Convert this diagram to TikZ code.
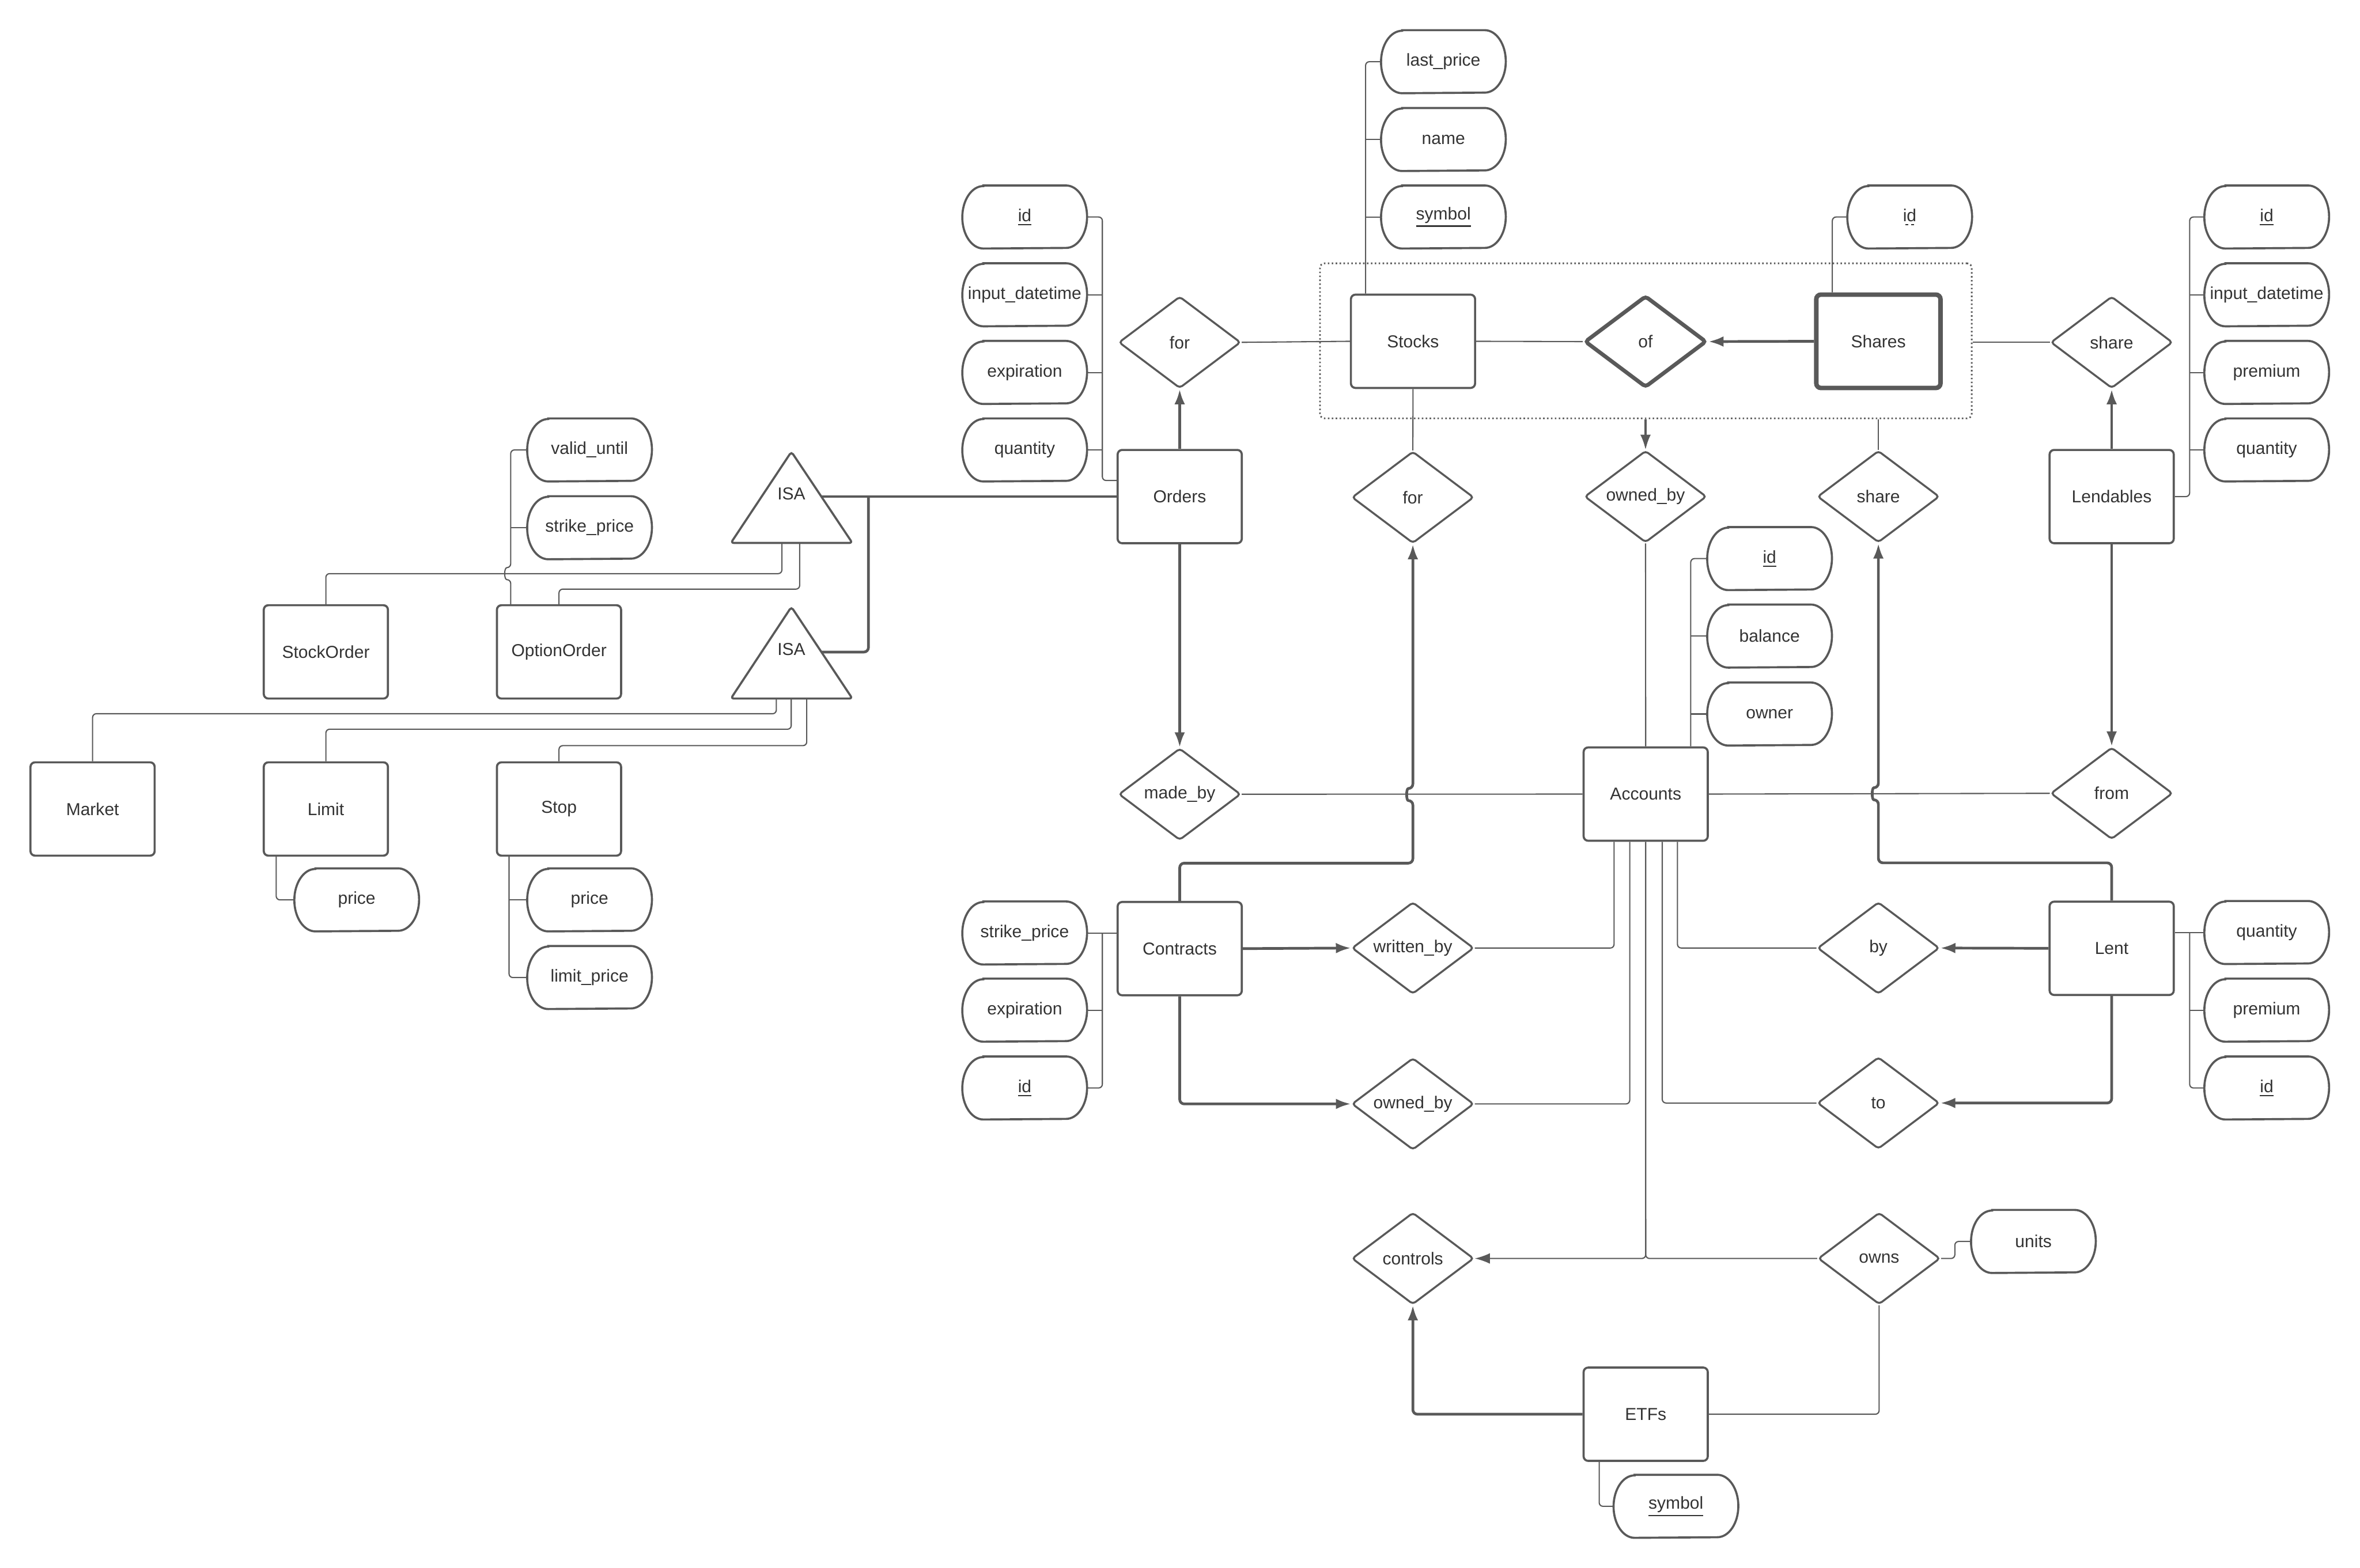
\documentclass[tikz,border=0pt]{standalone}
\usepackage{fontspec}
\setmainfont{Liberation Sans}
\usetikzlibrary{shapes.geometric,arrows.meta}
\definecolor{lc}{RGB}{89,89,89}
\definecolor{tc}{RGB}{51,51,51}
\newcommand{\myul}[1]{\setbox0\hbox{#1}\vtop{\copy0\kern1.4pt\hrule height 0.8pt depth 0pt width \wd0}}
\newcommand{\mydul}[1]{\setbox0\hbox{#1}\vtop{\copy0\nointerlineskip\kern1.4pt\hbox to \wd0{\xleaders\hbox to 3.2pt{\hss\vrule height 0.8pt depth 0pt width 2pt\hss}\hfill}}}
\begin{document}
\begin{tikzpicture}[x=1pt,y=-1pt,
  every node/.style={font=\fontsize{11.5}{13}\selectfont, text=tc},
  entity/.style={draw=lc, rectangle, rounded corners=3pt, line width=1.4pt, minimum width=82.5pt, minimum height=62pt, inner sep=0pt},
  rel/.style={draw=lc, diamond, aspect=1.33, rounded corners=2pt, line width=1.3pt, minimum width=81pt, minimum height=61pt, inner sep=0pt},
  attr/.style={minimum width=82.5pt, minimum height=41.5pt, inner sep=0pt},
  shapeline/.style={draw=lc, line width=1.4pt},
  ln/.style={draw=lc, line width=0.8pt, rounded corners=2.5pt},
  thk/.style={draw=lc, line width=1.8pt, rounded corners=3pt},
  arr/.style={-{Latex[length=10pt,width=7pt]}}
]
\useasboundingbox (0,0) rectangle (1568,1042);

% ---------- entities
\node[entity] (stocks) at (938.8,226.8) {Stocks};
\node[entity, line width=3pt] (shares) at (1248,226.8) {Shares};
\node[entity] (orders) at (783.8,330) {Orders};
\node[entity] (lendables) at (1403,330) {Lendables};
\node[entity] (accounts) at (1093.4,527.7) {Accounts};
\node[entity] (contracts) at (783.8,630.4) {Contracts};
\node[entity] (lent) at (1403,630.2) {Lent};
\node[entity] (etfs) at (1093.4,939.8) {ETFs};
\node[entity] (stockorder) at (216.5,433.2) {StockOrder};
\node[entity] (optionorder) at (371.4,433.2) {OptionOrder};
\node[entity] (market) at (61.5,537.6) {Market};
\node[entity] (limit) at (216.5,537.6) {Limit};
\node[entity] (stop) at (371.4,537.6) {Stop};

% ---------- relationships
\node[rel] (forA) at (783.8,227.5) {for};
\node[rel, line width=2.6pt] (of) at (1093.3,227) {of};
\node[rel] (shareA) at (1403,227.5) {share};
\node[rel] (forB) at (938.7,330.5) {for};
\node[rel] (ownedA) at (1093.3,330) {owned\_by};
\node[rel] (shareB) at (1248,330) {share};
\node[rel] (madeby) at (783.8,527.8) {made\_by};
\node[rel] (from) at (1403,527.2) {from};
\node[rel] (writtenby) at (938.7,630) {written\_by};
\node[rel] (by) at (1248,630) {by};
\node[rel] (ownedB) at (938.7,733.6) {owned\_by};
\node[rel] (to) at (1248,733) {to};
\node[rel] (controls) at (938.7,836.3) {controls};
\node[rel] (owns) at (1248.5,836.3) {owns};

% ---------- attributes
\node[attr] (slast) at (959,41) {last\_price};
\node[attr] (sname) at (959,92.7) {name};
\node[attr] (ssym) at (959,144.2) {\myul{symbol}};
\node[attr] (oid) at (680.8,144.2) {\myul{id}};
\node[attr] (oinput) at (680.8,195.9) {input\_datetime};
\node[attr] (oexp) at (680.8,247.5) {expiration};
\node[attr] (oqty) at (680.8,299) {quantity};
\node[attr] (shid) at (1268.8,144.2) {\mydul{id}};
\node[attr] (lid) at (1506,144.2) {\myul{id}};
\node[attr] (linput) at (1506,195.9) {input\_datetime};
\node[attr] (lprem) at (1506,247.5) {premium};
\node[attr] (lqty) at (1506,299) {quantity};
\node[attr] (aid) at (1175.7,371.2) {\myul{id}};
\node[attr] (abal) at (1175.7,422.7) {balance};
\node[attr] (aown) at (1175.7,474.5) {owner};
\node[attr] (valid) at (391.7,299) {valid\_until};
\node[attr] (ostrike) at (391.7,350.7) {strike\_price};
\node[attr] (limprice) at (237,598) {price};
\node[attr] (stprice) at (391.7,598) {price};
\node[attr] (stlimit) at (391.7,649.6) {limit\_price};
\node[attr] (cstrike) at (680.8,620) {strike\_price};
\node[attr] (cexp) at (680.8,671.3) {expiration};
\node[attr] (cid) at (680.8,723) {\myul{id}};
\node[attr] (ltqty) at (1506,619.7) {quantity};
\node[attr] (ltprem) at (1506,671.3) {premium};
\node[attr] (ltid) at (1506,723) {\myul{id}};
\node[attr] (units) at (1351,825) {units};
\node[attr] (esym) at (1113.5,1001) {\myul{symbol}};

\foreach \n in {slast,sname,ssym,oid,oinput,oexp,oqty,shid,lid,linput,lprem,lqty,aid,abal,aown,valid,ostrike,limprice,stprice,stlimit,cstrike,cexp,cid,ltqty,ltprem,ltid,units,esym}
  \draw[shapeline] ([xshift=14pt]\n.north west) -- ([xshift=-14pt]\n.north east)
    arc[start angle=90,end angle=-90,x radius=14pt,y radius=20.75pt]
    -- ([xshift=14pt]\n.south west)
    arc[start angle=270,end angle=90,x radius=14pt,y radius=20.75pt] -- cycle;

% ---------- ISA triangles
\node (isaA) at (525.8,328) {ISA};
\node (isaB) at (525.8,431.4) {ISA};
\draw[shapeline, rounded corners=2pt] (525.8,300.2) -- (566.3,360.8) -- (485.6,360.8) -- cycle;
\draw[shapeline, rounded corners=2pt] (525.8,403.3) -- (566.3,464.2) -- (485.6,464.2) -- cycle;

% ---------- aggregation box
\node[draw=lc, line width=1.1pt, dash pattern=on 1pt off 1.6pt, rounded corners=3pt, minimum width=433pt, minimum height=103pt, inner sep=0pt] (agg) at (1093.5,226.5) {};

% ---------- ISA connectors
\draw[thk] (545.7,330) -- (orders.west);
\draw[thk] (545.7,433.3) -- (577,433.3) -- (577,330);
\draw[ln] (519.5,360.8) -- (519.5,381.2) -- (216.5,381.2) -- (stockorder.north);
\draw[ln] (531.3,360.8) -- (531.3,391.5) -- (371.4,391.5) -- (optionorder.north);
\draw[ln] (339.3,0 |- optionorder.north) -- (339.3,385.2) .. controls (334.8,385.2) and (334.8,377.2) .. (339.3,377.2) -- (339.3,299) -- (valid.west);
\draw[ln] (339.3,350.7) -- (ostrike.west);
\draw[ln] (515.8,464.2) -- (515.8,474.3) -- (61.5,474.3) -- (market.north);
\draw[ln] (525.7,464.2) -- (525.7,484.6) -- (216.5,484.6) -- (limit.north);
\draw[ln] (536,464.2) -- (536,495.5) -- (371.4,495.5) -- (stop.north);
\draw[ln] (183.5,0 |- limit.south) -- (183.5,598) -- (limprice.west);
\draw[ln] (338.2,0 |- stop.south) -- (338.2,649.6) -- (stlimit.west);
\draw[ln] (338.2,598) -- (stprice.west);

% ---------- Orders
\draw[thk, arr] (orders.north) -- (forA.south);
\draw[ln] (forA.east) -- (stocks.west);
\draw[ln] (oid.east) -- (732.4,144.2) -- (732.4,319.3) -- (orders.west |- 0,319.3);
\draw[ln] (oinput.east) -- (732.4,195.9);
\draw[ln] (oexp.east) -- (732.4,247.5);
\draw[ln] (oqty.east) -- (732.4,299);
\draw[thk, arr] (orders.south) -- (madeby.north);

% ---------- Stocks / Shares
\draw[ln] (907.3,0 |- stocks.north) -- (907.3,41) -- (slast.west);
\draw[ln] (907.3,92.7) -- (sname.west);
\draw[ln] (907.3,144.2) -- (ssym.west);
\draw[ln] (stocks.east) -- (of.west);
\draw[thk, arr] (shares.west) -- (of.east);
\draw[ln] (stocks.south) -- (forB.north);
\draw[ln] (1217.4,0 |- shares.north) -- (1217.4,144.2) -- (shid.west);

% ---------- aggregation links
\draw[ln] (agg.east |- shareA.west) -- (shareA.west);
\draw[ln, line width=1.2pt, arr] (agg.south -| ownedA.north) -- (ownedA.north);
\draw[ln] (agg.south -| shareB.north) -- (shareB.north);

% ---------- Lendables
\draw[thk, arr] (lendables.north) -- (shareA.south);
\draw[ln] (lendables.east) -- (1454.8,0 |- lendables.east) -- (1454.8,144.2) -- (lid.west);
\draw[ln] (1454.8,195.9) -- (linput.west);
\draw[ln] (1454.8,247.5) -- (lprem.west);
\draw[ln] (1454.8,299) -- (lqty.west);
\draw[thk, arr] (lendables.south) -- (from.north);

% ---------- Accounts
\draw[ln] (ownedA.south) -- (accounts.north);
\draw[ln] (1123.3,0 |- accounts.north) -- (1123.3,371.2) -- (aid.west);
\draw[ln] (1123.3,422.7) -- (abal.west);
\draw[ln] (1123.3,474.5) -- (aown.west);
\draw[ln] (madeby.east) -- (accounts.west);
\draw[ln] (accounts.east) -- (from.west);

% ---------- Contracts
\draw[thk, arr] (contracts.north) -- (783.8,573.6) -- (938.7,573.6) -- (938.7,532) .. controls (934.2,532) and (934.2,524) .. (938.7,524) -- (forB.south);
\draw[ln] (cstrike.east) -- (contracts.west |- cstrike.east);
\draw[ln] (732.4,620) -- (732.4,723) -- (cid.east);
\draw[ln] (732.4,671.3) -- (cexp.east);
\draw[thk, arr] (contracts.east) -- (writtenby.west);
\draw[ln] (writtenby.east) -- (1072.4,630) -- (1072.4,0 |- accounts.south);
\draw[thk, arr] (contracts.south) -- (783.8,733.6) -- (ownedB.west);
\draw[ln] (ownedB.east) -- (1082.8,733.6) -- (1082.8,0 |- accounts.south);
\draw[ln, arr] (accounts.south) -- (1093.4,836.3) -- (controls.east);
\draw[ln] (owns.west) -- (1093.4,836.3) -- (1093.4,810);
\draw[ln] (1114.5,0 |- accounts.south) -- (1114.5,630) -- (by.west);
\draw[ln] (1104.4,0 |- accounts.south) -- (1104.4,733) -- (to.west);

% ---------- Lent
\draw[thk, arr] (lent.north) -- (1403,573.4) -- (1248,573.4) -- (1248,531.5) .. controls (1243.5,531.5) and (1243.5,523.5) .. (1248,523.5) -- (shareB.south);
\draw[thk, arr] (lent.west) -- (by.east);
\draw[thk, arr] (lent.south) -- (1403,733) -- (to.east);
\draw[ln] (lent.east |- ltqty.west) -- (ltqty.west);
\draw[ln] (1454.8,619.7) -- (1454.8,723) -- (ltid.west);
\draw[ln] (1454.8,671.3) -- (ltprem.west);

% ---------- ETFs
\draw[thk, arr] (etfs.west) -- (938.7,939.8) -- (controls.south);
\draw[ln] (etfs.east) -- (1248.5,939.8) -- (owns.south);
\draw[ln] (owns.east) -- (1298.8,836.3) -- (1298.8,825) -- (units.west);
\draw[ln] (1062.5,0 |- etfs.south) -- (1062.5,1001) -- (esym.west);
\end{tikzpicture}
\end{document}
